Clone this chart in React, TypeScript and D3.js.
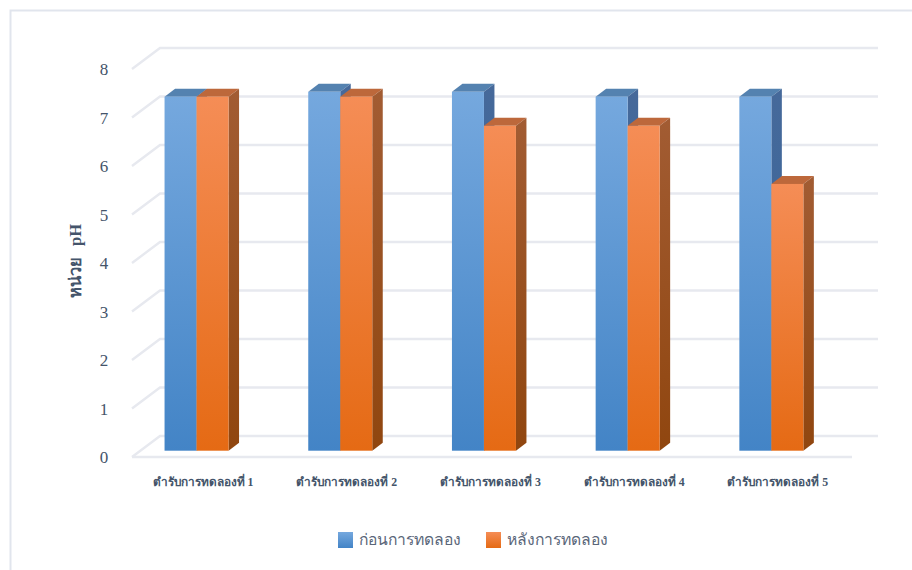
import React from "react";
import * as d3 from "d3";

const treatments = [
  "ตำรับการทดลองที่ 1",
  "ตำรับการทดลองที่ 2",
  "ตำรับการทดลองที่ 3",
  "ตำรับการทดลองที่ 4",
  "ตำรับการทดลองที่ 5",
];
const beforeValues = [7.3, 7.4, 7.4, 7.3, 7.3];
const afterValues = [7.3, 7.3, 6.7, 6.7, 5.5];
const yTicks = [0, 1, 2, 3, 4, 5, 6, 7, 8];
const seriesNames = ["ก่อนการทดลอง", "หลังการทดลอง"];
const yTitle = "หน่วย  pH";

const WIDTH = 912;
const HEIGHT = 570;
const TEXT = "#44546a";
const GRID = "#e7e9ef";
const SERIF = "'Liberation Serif', 'DejaVu Serif', serif";

// Perspective of the chart box: front plane to back wall.
const WALL_DX = 28;
const WALL_DY = -21;
// Bars stand in the middle of the floor and have a shallower depth of their own.
const BAR_DX = 10.5;
const BAR_DY = -8;
const BAR_WIDTH = 32;

const yFront = d3.scaleLinear().domain([0, 8]).range([457, 69]);
const yBar = d3.scaleLinear().domain([0, 8]).range([450.7, 62.7]);
const xBand = d3.scaleBand<string>().domain(treatments).range([124.7, 843.2]);

type Palette = { front: string; top: string; side: string };
const palettes: Palette[] = [
  { front: "url(#frontBlue)", top: "#5482b0", side: "url(#sideBlue)" },
  { front: "url(#frontOrange)", top: "#bd683b", side: "url(#sideOrange)" },
];

function Bar3D({ x, value, palette }: { x: number; value: number; palette: Palette }) {
  const top = yBar(value);
  const base = yBar(0);
  const right = x + BAR_WIDTH;
  const poly = (pts: [number, number][]) => pts.map((p) => p.join(",")).join(" ");
  return (
    <g>
      <polygon
        points={poly([
          [x, top],
          [x + BAR_DX, top + BAR_DY],
          [right + BAR_DX, top + BAR_DY],
          [right, top],
        ])}
        fill={palette.top}
      />
      <polygon
        points={poly([
          [right, top],
          [right + BAR_DX, top + BAR_DY],
          [right + BAR_DX, base + BAR_DY],
          [right, base],
        ])}
        fill={palette.side}
      />
      <rect x={x} y={top} width={BAR_WIDTH} height={base - top} fill={palette.front} />
    </g>
  );
}

function gradient(id: string, top: string, bottom: string) {
  return (
    <linearGradient id={id} x1="0" y1="0" x2="0" y2="1">
      <stop offset="0" stopColor={top} />
      <stop offset="1" stopColor={bottom} />
    </linearGradient>
  );
}

export default function App() {
  const groups = [beforeValues, afterValues];
  const legend = [
    { x: 338, textX: 359, name: seriesNames[0], fill: "url(#frontBlue)" },
    { x: 486, textX: 507, name: seriesNames[1], fill: "url(#frontOrange)" },
  ];
  return (
    <svg
      width={WIDTH}
      height={HEIGHT}
      viewBox={`0 0 ${WIDTH} ${HEIGHT}`}
      style={{ position: "fixed", left: 0, top: 0, background: "#fff" }}
    >
      <defs>
        {gradient("frontBlue", "#75a8de", "#4384c6")}
        {gradient("frontOrange", "#f58d56", "#e56a14")}
        {gradient("sideBlue", "#46699a", "#33659c")}
        {gradient("sideOrange", "#a25c33", "#90460f")}
      </defs>

      {/* Outer frame: only the top and left edges are inside the canvas */}
      <path d={`M${WIDTH},10.5 H10.5 V${HEIGHT}`} fill="none" stroke="#e1e5ed" strokeWidth={2} />

      {/* Back wall gridlines with their side-wall diagonals */}
      <g fill="none" stroke={GRID} strokeWidth={2.4}>
        {yTicks.map((t) => {
          const y = yFront(t);
          return <path key={t} d={`M132,${y} L${132 + WALL_DX},${y + WALL_DY} H878`} />;
        })}
        <path d={`M132,${yFront(0)} H852`} />
      </g>

      {/* Value axis labels */}
      <g fontFamily={SERIF} fontSize={17} fill={TEXT} textAnchor="middle">
        {yTicks.map((t) => (
          <text key={t} x={104} y={yFront(t) + 6}>
            {t}
          </text>
        ))}
      </g>
      <text
        transform="translate(81,261) rotate(-90)"
        fontFamily={SERIF}
        fontSize={16.5}
        fontWeight="bold"
        fill={TEXT}
        textAnchor="middle"
        style={{ whiteSpace: "pre", wordSpacing: 1.5 }}
      >
        {yTitle}
      </text>

      {/* Paired 3D columns */}
      {treatments.map((name, i) => {
        const center = (xBand(name) as number) + xBand.bandwidth() / 2;
        return (
          <g key={name}>
            {groups.map((values, s) => (
              <Bar3D
                key={s}
                x={center - BAR_WIDTH + s * BAR_WIDTH}
                value={values[i]}
                palette={palettes[s]}
              />
            ))}
          </g>
        );
      })}

      {/* Category labels */}
      <g fontFamily={SERIF} fontSize={11.8} fontWeight="bold" fill={TEXT} textAnchor="middle">
        {treatments.map((name) => (
          <text key={name} x={(xBand(name) as number) + xBand.bandwidth() / 2 + 6.5} y={486}>
            {name}
          </text>
        ))}
      </g>

      {/* Legend */}
      {legend.map((l) => (
        <g key={l.name}>
          <rect x={l.x} y={532} width={15} height={16} fill={l.fill} />
          <text x={l.textX} y={545} fontFamily={SERIF} fontSize={15.7} fill="#5a6679">
            {l.name}
          </text>
        </g>
      ))}
    </svg>
  );
}
